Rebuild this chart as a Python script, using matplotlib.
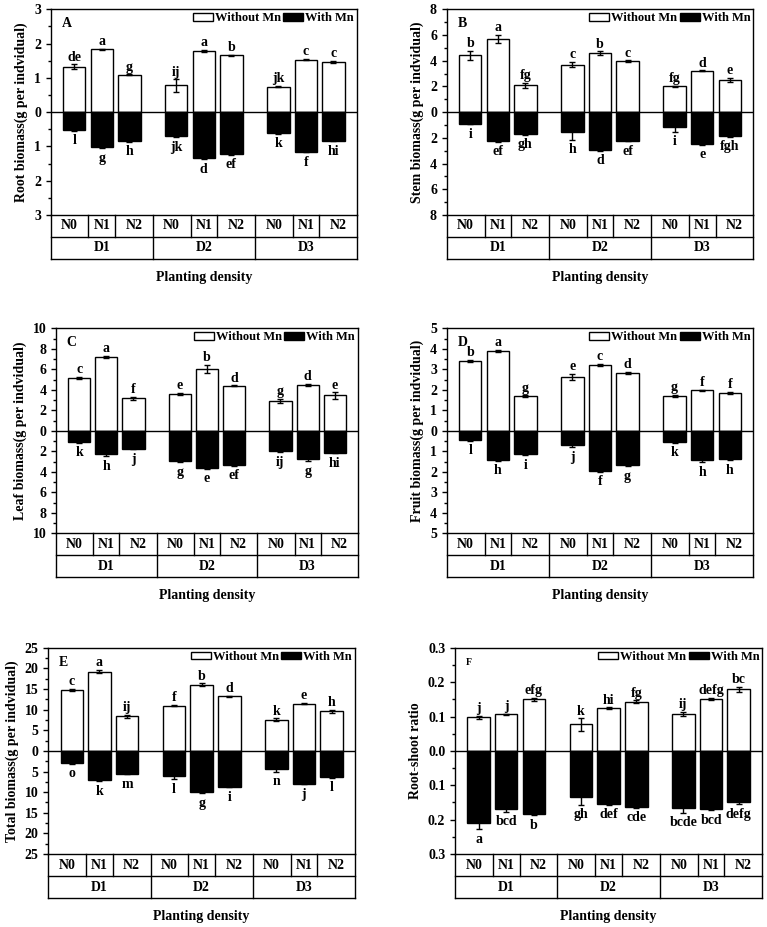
import numpy as np
import matplotlib.pyplot as plt
from matplotlib.patches import Patch
from matplotlib.ticker import FuncFormatter, MultipleLocator

plt.rcParams['font.family'] = ['Liberation Serif', 'DejaVu Serif']
plt.rcParams['font.weight'] = 'bold'
plt.rcParams['axes.labelweight'] = 'bold'

# categorie
density = ['D1', 'D2', 'D3']
nitrogen = ['N0', 'N1', 'N2']

# A - root biomass
root_wo = [1.33, 1.83, 1.09, 0.78, 1.78, 1.66, 0.74, 1.53, 1.47]
root_wo_err = [0.06, 0.02, 0.01, 0.18, 0.03, 0.02, 0.02, 0.02, 0.03]
root_w = [0.52, 1.03, 0.85, 0.70, 1.35, 1.22, 0.62, 1.15, 0.83]
root_w_err = [0.03, 0.02, 0.02, 0.03, 0.02, 0.02, 0.01, 0.02, 0.02]
root_top = ['de', 'a', 'g', 'ij', 'a', 'b', 'jk', 'c', 'c']
root_bot = ['l', 'g', 'h', 'jk', 'd', 'ef', 'k', 'f', 'hi']

# B - stem biomass
stem_wo = [4.44, 5.71, 2.08, 3.69, 4.60, 3.95, 2.00, 3.22, 2.49]
stem_wo_err = [0.35, 0.30, 0.20, 0.20, 0.12, 0.07, 0.06, 0.04, 0.15]
stem_w = [0.91, 2.26, 1.71, 1.58, 2.91, 2.23, 1.19, 2.49, 1.87]
stem_w_err = [0.03, 0.05, 0.05, 0.55, 0.10, 0.05, 0.35, 0.03, 0.05]
stem_top = ['b', 'a', 'fg', 'c', 'b', 'c', 'fg', 'd', 'e']
stem_bot = ['i', 'ef', 'gh', 'h', 'd', 'ef', 'i', 'e', 'fgh']

# C - leaf biomass
leaf_wo = [5.20, 7.19, 3.19, 3.58, 6.05, 4.39, 2.90, 4.49, 3.45]
leaf_wo_err = [0.10, 0.10, 0.15, 0.12, 0.40, 0.05, 0.20, 0.10, 0.30]
leaf_w = [1.10, 2.28, 1.76, 2.93, 3.64, 3.38, 1.95, 2.76, 2.15]
leaf_w_err = [0.05, 0.20, 0.05, 0.15, 0.05, 0.05, 0.15, 0.20, 0.05]
leaf_top = ['c', 'a', 'f', 'e', 'b', 'd', 'g', 'd', 'e']
leaf_bot = ['k', 'h', 'j', 'g', 'e', 'ef', 'ij', 'g', 'hi']

# D - fruit biomass
fruit_wo = [3.41, 3.90, 1.68, 2.64, 3.22, 2.83, 1.72, 1.97, 1.84]
fruit_wo_err = [0.04, 0.04, 0.05, 0.15, 0.04, 0.04, 0.05, 0.02, 0.06]
fruit_w = [0.44, 1.41, 1.15, 0.71, 1.97, 1.68, 0.55, 1.44, 1.39]
fruit_w_err = [0.05, 0.05, 0.04, 0.10, 0.03, 0.04, 0.04, 0.10, 0.05]
fruit_top = ['b', 'a', 'g', 'e', 'c', 'd', 'g', 'f', 'f']
fruit_bot = ['l', 'h', 'i', 'j', 'f', 'g', 'k', 'h', 'h']

# E - total biomass
total_wo = [14.76, 19.20, 8.40, 10.97, 16.10, 13.20, 7.58, 11.45, 9.60]
total_wo_err = [0.30, 0.40, 0.40, 0.20, 0.30, 0.15, 0.30, 0.15, 0.30]
total_w = [2.98, 7.10, 5.56, 6.05, 10.00, 8.70, 4.44, 7.90, 6.37]
total_w_err = [0.15, 0.30, 0.15, 0.80, 0.30, 0.15, 0.60, 0.15, 0.20]
total_top = ['c', 'a', 'ij', 'f', 'b', 'd', 'k', 'e', 'h']
total_bot = ['o', 'k', 'm', 'l', 'g', 'i', 'n', 'j', 'l']

# F - root-shoot ratio
ratio_wo = [0.098, 0.106, 0.150, 0.077, 0.124, 0.143, 0.108, 0.151, 0.179]
ratio_wo_err = [0.004, 0.002, 0.005, 0.018, 0.003, 0.004, 0.006, 0.003, 0.008]
ratio_w = [0.210, 0.169, 0.183, 0.134, 0.154, 0.162, 0.165, 0.169, 0.150]
ratio_w_err = [0.018, 0.008, 0.004, 0.022, 0.003, 0.004, 0.015, 0.003, 0.005]
ratio_top = ['j', 'j', 'efg', 'k', 'hi', 'fg', 'ij', 'defg', 'bc']
ratio_bot = ['a', 'bcd', 'b', 'gh', 'def', 'cde', 'bcde', 'bcd', 'defg']

FS = 10
centers = np.arange(1, 4)
offs = np.array([-0.27, 0.0, 0.27])
xpos = (centers[:, None] + offs[None, :]).ravel()
row_h = 0.107


def draw_panel(ax, letter, ylabel, wo, wo_err, w, w_err, top, bot, ymax, step, fmt):
    wo = np.array(wo)
    w = np.array(w)
    ax.bar(xpos, wo, 0.22, color='white', edgecolor='black', linewidth=1, zorder=2)
    ax.bar(xpos, -w, 0.22, color='black', edgecolor='black', linewidth=1, zorder=2)
    ax.errorbar(xpos, wo, yerr=wo_err, fmt='none', ecolor='black', elinewidth=1, capsize=2.5, zorder=3)
    ax.errorbar(xpos, -w, yerr=w_err, fmt='none', ecolor='black', elinewidth=1, capsize=2.5, zorder=3)
    ax.axhline(0, color='black', linewidth=1, zorder=4)

    for xi, v, e, t in zip(xpos, wo, wo_err, top):
        ax.annotate(t, (xi, v + e), xytext=(0, 0.5), textcoords='offset points',
                    ha='center', va='bottom', fontsize=FS, fontweight='bold')
    for xi, v, e, t in zip(xpos, w, w_err, bot):
        ax.annotate(t, (xi, -v - e), xytext=(0, -2.5), textcoords='offset points',
                    ha='center', va='top', fontsize=FS, fontweight='bold')

    ax.set_xlim(0.5, 3.5)
    ax.set_ylim(-ymax, ymax)
    ax.set_xticks([])
    ax.yaxis.set_major_locator(MultipleLocator(step))
    ax.yaxis.set_minor_locator(MultipleLocator(step / 2))
    ax.yaxis.set_major_formatter(FuncFormatter(lambda v, p: fmt.format(abs(v) + 0.0)))
    ax.tick_params(axis='y', which='major', direction='out', length=3.5, width=1, labelsize=FS)
    ax.tick_params(axis='y', which='minor', direction='out', length=2, width=1)
    for s in ax.spines.values():
        s.set_linewidth(1)
    ax.set_ylabel(ylabel, fontsize=FS, fontweight='bold', labelpad=4)

    ax.text(0.035, 0.93, letter, transform=ax.transAxes, fontsize=FS if letter != 'F' else FS - 3,
            fontweight='bold', ha='left', va='center')

    # legenda
    handles = [Patch(facecolor='white', edgecolor='black', label='Without Mn'),
               Patch(facecolor='black', edgecolor='black', label='With Mn')]
    ax.legend(handles=handles, loc='upper right', ncol=2, frameon=False,
              handlelength=1.6, handleheight=0.6, handletextpad=0.15, columnspacing=0.2,
              borderaxespad=0.15, borderpad=0.1, prop={'weight': 'bold', 'size': 9})

    # tabella sotto il grafico
    tr = ax.get_xaxis_transform()
    kw = dict(color='black', linewidth=1, transform=tr, clip_on=False)
    ax.plot([0.5, 3.5], [-row_h, -row_h], **kw)
    ax.plot([0.5, 3.5], [-2 * row_h, -2 * row_h], **kw)
    for xv in [0.5, 1.5, 2.5, 3.5]:
        ax.plot([xv, xv], [0, -2 * row_h], **kw)
    for c in centers:
        for xv in [c - 0.13, c + 0.13]:
            ax.plot([xv, xv], [0, -row_h], **kw)
        for xv, lab in zip([c - 0.315, c, c + 0.315], nitrogen):
            ax.text(xv, -row_h / 2, lab, transform=tr, ha='center', va='center',
                    fontsize=FS, fontweight='bold')
        ax.text(c, -1.5 * row_h, density[c - 1], transform=tr, ha='center', va='center',
                fontsize=FS, fontweight='bold')
    ax.text(0.5, -0.305, 'Planting density', transform=ax.transAxes, ha='center', va='center',
            fontsize=FS, fontweight='bold')


fig = plt.figure(figsize=(7.67, 9.27), dpi=100)

axA = fig.add_axes([0.0661, 0.7681, 0.3993, 0.2219])
axB = fig.add_axes([0.5824, 0.7681, 0.3998, 0.2219])
axC = fig.add_axes([0.0730, 0.4247, 0.3937, 0.2211])
axD = fig.add_axes([0.5824, 0.4247, 0.3997, 0.2211])
axE = fig.add_axes([0.0630, 0.0787, 0.3999, 0.2225])
axF = fig.add_axes([0.5932, 0.0787, 0.4007, 0.2225])

draw_panel(axA, 'A', 'Root biomass(g per indvidual)', root_wo, root_wo_err, root_w, root_w_err,
           root_top, root_bot, 3, 1, '{:.0f}')
draw_panel(axB, 'B', 'Stem biomass(g per indvidual)', stem_wo, stem_wo_err, stem_w, stem_w_err,
           stem_top, stem_bot, 8, 2, '{:.0f}')
draw_panel(axC, 'C', 'Leaf biomass(g per indvidual)', leaf_wo, leaf_wo_err, leaf_w, leaf_w_err,
           leaf_top, leaf_bot, 10, 2, '{:.0f}')
draw_panel(axD, 'D', 'Fruit biomass(g per indvidual)', fruit_wo, fruit_wo_err, fruit_w, fruit_w_err,
           fruit_top, fruit_bot, 5, 1, '{:.0f}')
draw_panel(axE, 'E', 'Total biomass(g per indvidual)', total_wo, total_wo_err, total_w, total_w_err,
           total_top, total_bot, 25, 5, '{:.0f}')
draw_panel(axF, 'F', 'Root-shoot ratio', ratio_wo, ratio_wo_err, ratio_w, ratio_w_err,
           ratio_top, ratio_bot, 0.3, 0.1, '{:.1f}')

fig.savefig('out.png', dpi=100)
